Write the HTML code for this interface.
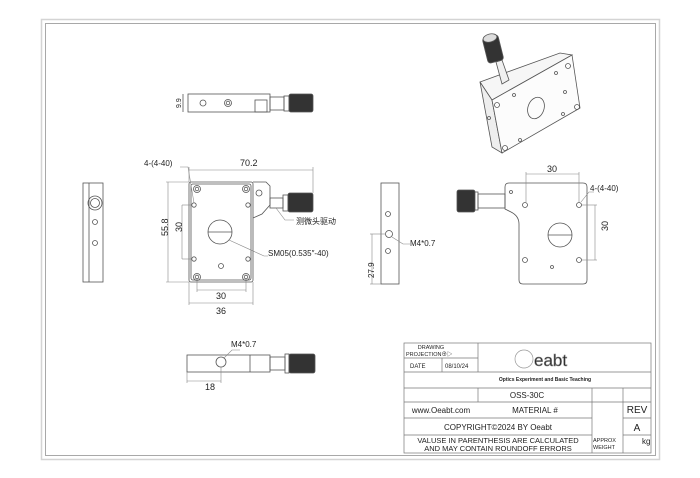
<!DOCTYPE html>
<html><head><meta charset="utf-8"><style>
html,body{margin:0;padding:0;background:#fff}
svg{display:block}
text{font-family:"Liberation Sans","Noto Sans CJK SC",sans-serif;fill:#222}
.m{font-family:"Liberation Mono","Noto Sans CJK SC",monospace}
</style></head><body>
<svg width="700" height="478" viewBox="0 0 700 478" xmlns="http://www.w3.org/2000/svg">
<rect width="700" height="478" fill="#fff"/>
<rect x="41.5" y="19.5" width="618" height="440" fill="none" stroke="#d4d4d4" stroke-width="1.5"/>
<rect x="45.5" y="23.5" width="610" height="432" fill="none" stroke="#a8a8a8" stroke-width="1"/>

<g stroke="#555" stroke-width="0.8" fill="none">
<!-- top view -->
<rect x="188" y="94" width="82" height="18"/>
<circle cx="203" cy="103" r="3"/><circle cx="228" cy="103" r="3.5"/><circle cx="228" cy="103" r="1.8"/>
<rect x="255" y="100" width="12" height="12"/>
<rect x="270" y="97" width="14" height="13"/>
<rect x="284" y="96" width="5" height="15"/>
<rect x="289" y="94" width="24" height="18" rx="2" fill="#333"/>
<line x1="183" y1="94" x2="183" y2="112"/>

<!-- left side view -->
<rect x="83" y="183" width="20" height="99"/>
<line x1="89" y1="183" x2="89" y2="282"/>
<circle cx="95" cy="203" r="7"/><circle cx="95" cy="203" r="4.5"/>
<circle cx="95" cy="222" r="2.5"/><circle cx="95" cy="243" r="2.5"/>

<!-- front view -->
<rect x="189" y="182" width="64" height="100" rx="2"/>
<rect x="191" y="184" width="60" height="96" rx="2"/>
<path d="M253 182 H266 L270 186 V205 L262 214 L253 218"/>
<circle cx="259" cy="193" r="3"/>
<rect x="270" y="198" width="13" height="10"/>
<rect x="283" y="195" width="5" height="16"/>
<rect x="288" y="193" width="25" height="19" rx="2" fill="#333"/>
<circle cx="220" cy="232" r="12"/><line x1="208" y1="232" x2="232" y2="232"/>
<circle cx="197" cy="189" r="3.5"/><circle cx="197" cy="189" r="1.8"/>
<circle cx="246" cy="189" r="3.5"/><circle cx="246" cy="189" r="1.8"/>
<circle cx="197" cy="277" r="3.5"/><circle cx="197" cy="277" r="1.8"/>
<circle cx="246" cy="277" r="3.5"/><circle cx="246" cy="277" r="1.8"/>
<circle cx="194" cy="205" r="2.2"/><circle cx="248" cy="205" r="2.2"/>
<circle cx="194" cy="259" r="2.2"/><circle cx="248" cy="259" r="2.2"/>
<circle cx="221" cy="266" r="2.5"/>
<g stroke="#888" stroke-width="0.6">
<line x1="189" y1="170" x2="313" y2="170"/><line x1="189" y1="167" x2="189" y2="182"/><line x1="313" y1="167" x2="313" y2="193"/>
<line x1="168" y1="182" x2="168" y2="282"/><line x1="166" y1="182" x2="189" y2="182"/><line x1="166" y1="282" x2="189" y2="282"/>
<line x1="182" y1="205" x2="182" y2="259"/><line x1="182" y1="205" x2="192" y2="205"/><line x1="182" y1="259" x2="192" y2="259"/>
<line x1="197" y1="290" x2="246" y2="290"/><line x1="197" y1="280" x2="197" y2="292"/><line x1="246" y1="280" x2="246" y2="292"/>
<line x1="189" y1="303" x2="253" y2="303"/><line x1="189" y1="282" x2="189" y2="305"/><line x1="253" y1="282" x2="253" y2="305"/>
<polyline points="180,167 188,167 194,203"/>
<polyline points="276,208 285,220 294,220"/>
<polyline points="229,240 264,256 268,256"/>
</g>

<!-- right side view -->
<rect x="381" y="183" width="18" height="101"/>
<circle cx="388" cy="214" r="2.5"/><circle cx="389" cy="234" r="3.5"/><circle cx="388" cy="251" r="2.5"/>
<g stroke="#888" stroke-width="0.6">
<line x1="372" y1="234" x2="372" y2="284"/><line x1="370" y1="234" x2="386" y2="234"/><line x1="370" y1="284" x2="381" y2="284"/>
<polyline points="392,237 403,244 410,244"/>
</g>

<!-- back view -->
<path d="M509 183 H583 Q587 183 587 187 V280 Q587 284 583 284 H523 Q519 284 519 280 V224 Q519 216 511 212 L505 209 V187 Q505 183 509 183 Z"/>
<rect x="478" y="194" width="27" height="14"/>
<rect x="473" y="192" width="5" height="18"/>
<rect x="457" y="190" width="18" height="22" rx="2" fill="#333"/>
<circle cx="560" cy="235" r="12"/><line x1="548" y1="235" x2="572" y2="235"/>
<circle cx="525" cy="205" r="2.5"/><circle cx="579" cy="205" r="2.5"/>
<circle cx="525" cy="260" r="2.5"/><circle cx="579" cy="260" r="2.5"/>
<circle cx="511" cy="192" r="1.5"/><circle cx="552" cy="267" r="1.5"/>
<g stroke="#888" stroke-width="0.6">
<line x1="526" y1="174" x2="579" y2="174"/><line x1="526" y1="172" x2="526" y2="202"/><line x1="579" y1="172" x2="579" y2="202"/>
<line x1="595" y1="205" x2="595" y2="260"/><line x1="582" y1="205" x2="597" y2="205"/><line x1="582" y1="260" x2="597" y2="260"/>
<polyline points="581,202 589,192 594,192"/>
</g>

<!-- bottom view -->
<rect x="187" y="355" width="83" height="17"/>
<line x1="250" y1="355" x2="250" y2="372"/>
<rect x="270" y="357" width="15" height="13"/>
<rect x="285" y="354" width="4" height="19"/>
<rect x="289" y="354" width="26" height="19" rx="2" fill="#333"/>
<circle cx="221" cy="362" r="5"/>
<g stroke="#888" stroke-width="0.6">
<line x1="187" y1="381" x2="221" y2="381"/><line x1="187" y1="372" x2="187" y2="383"/><line x1="221" y1="367" x2="221" y2="383"/>
<polyline points="224,358 232,350 240,350"/>
</g>

<!-- iso view -->
<polygon points="480,82 560,53 572,55 492,100" fill="#f6f6f6"/>
<polygon points="480,82 492,100 502,153 492,147" fill="#eee"/>
<polygon points="492,100 572,55 580,108 502,153" fill="#fcfcfc"/>
<polygon points="496,62 502,60 509,80 502,84" fill="#f0f0f0"/>
<rect x="485" y="36" width="16" height="26" rx="3" transform="rotate(-14 493 49)" fill="#333"/>
<ellipse cx="490" cy="38" rx="7" ry="4" fill="#ddd" transform="rotate(-14 490 38)"/>
<ellipse cx="536" cy="108" rx="8" ry="11" transform="rotate(20 536 108)"/>
<circle cx="497" cy="105" r="2.5"/><circle cx="568" cy="66" r="2.5"/><circle cx="577" cy="107" r="2.5"/><circle cx="505" cy="148" r="2.5"/>
<circle cx="514" cy="95" r="1.5"/><circle cx="556" cy="73" r="1.5"/><circle cx="565" cy="92" r="1.5"/><circle cx="520" cy="140" r="1.5"/><circle cx="563" cy="114" r="1.5"/><circle cx="489" cy="118" r="1.5"/>
</g>

<g class="m" font-size="8">
<text x="173" y="106" font-size="7" transform="rotate(-90 178 103)">9.9</text>
<text x="240" y="166" font-size="9">70.2</text>
<text x="144" y="166" font-size="8">4-(4-40)</text>
<text x="164" y="240" font-size="9" transform="rotate(-90 164 236)">55.8</text>
<text x="178" y="236" font-size="9" transform="rotate(-90 178 232)">30</text>
<text x="216" y="299" font-size="9">30</text>
<text x="216" y="314" font-size="9">36</text>
<text x="296" y="224" font-size="8">测微头驱动</text>
<text x="268" y="256" font-size="8">SM05(0.535″-40)</text>
<text x="410" y="246" font-size="8">M4*0.7</text>
<text x="368" y="284" font-size="8" transform="rotate(-90 368 278)">27.9</text>
<text x="547" y="172" font-size="9">30</text>
<text x="590" y="191" font-size="8">4-(4-40)</text>
<text x="603" y="238" font-size="9" transform="rotate(-90 602 232)">30</text>
<text x="231" y="347" font-size="8">M4*0.7</text>
<text x="205" y="390" font-size="9">18</text>
</g>

<!-- title block -->
<g stroke="#777" stroke-width="0.7" fill="none">
<rect x="404" y="343" width="247" height="110"/>
<line x1="404" y1="358" x2="478" y2="358"/>
<line x1="404" y1="372" x2="651" y2="372"/>
<line x1="404" y1="388" x2="651" y2="388"/>
<line x1="404" y1="402" x2="651" y2="402"/>
<line x1="404" y1="418" x2="592" y2="418"/><line x1="623" y1="418" x2="651" y2="418"/>
<line x1="404" y1="435" x2="592" y2="435"/><line x1="623" y1="435" x2="651" y2="435"/>
<line x1="442" y1="358" x2="442" y2="372"/>
<line x1="478" y1="343" x2="478" y2="372"/>
<line x1="478" y1="388" x2="478" y2="402"/>
<line x1="592" y1="388" x2="592" y2="453"/>
<line x1="623" y1="388" x2="623" y2="453"/>
<circle cx="524" cy="359" r="9" stroke="#999"/>
</g>
<g font-size="7" fill="#444">
<text x="431" y="349" font-size="5.5" text-anchor="middle">DRAWING</text>
<text x="406" y="356" font-size="5.5">PROJECTION⊕▷</text>
<text x="410" y="368" font-size="6">DATE</text>
<text x="445" y="368" font-size="6">08/10/24</text>
<text x="534" y="366" font-size="17" fill="#fff" stroke="#888" stroke-width="0.6">eabt</text>
<text x="545" y="381" font-size="5" text-anchor="middle" font-weight="bold">Optics Experiment and Basic Teaching</text>
<text x="527" y="398" font-size="8" text-anchor="middle">OSS-30C</text>
<text x="441" y="413" font-size="8" text-anchor="middle">www.Oeabt.com</text>
<text x="535" y="413" font-size="8" text-anchor="middle">MATERIAL #</text>
<text x="637" y="413" font-size="10" text-anchor="middle">REV</text>
<text x="498" y="430" font-size="8" text-anchor="middle">COPYRIGHT©2024 BY Oeabt</text>
<text x="637" y="431" font-size="10" text-anchor="middle">A</text>
<text x="498" y="443" font-size="7.5" text-anchor="middle">VALUSE IN PARENTHESIS ARE CALCULATED</text>
<text x="498" y="451" font-size="7.5" text-anchor="middle">AND MAY CONTAIN ROUNDOFF ERRORS</text>
<text x="593" y="442" font-size="5.5">APPROX</text>
<text x="593" y="449" font-size="5.5">WEIGHT</text>
<text x="642" y="444" font-size="8">kg</text>
</g>
</svg>
</body></html>
